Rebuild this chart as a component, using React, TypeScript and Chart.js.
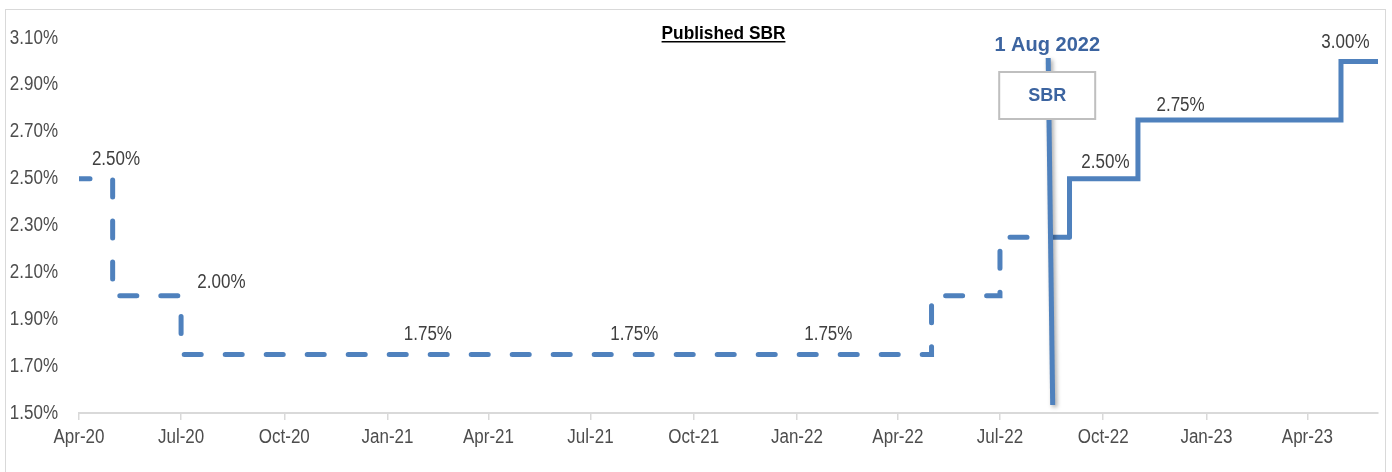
import React, { useEffect, useRef } from "react";
import { Chart, registerables } from "chart.js";

Chart.register(...registerables);

const d = (y: number, m: number, day: number) => Date.UTC(y, m - 1, day);

// X axis ticks (quarter starts)
const tickDates = [
  d(2020, 4, 1), d(2020, 7, 1), d(2020, 10, 1), d(2021, 1, 1), d(2021, 4, 1),
  d(2021, 7, 1), d(2021, 10, 1), d(2022, 1, 1), d(2022, 4, 1), d(2022, 7, 1),
  d(2022, 10, 1), d(2023, 1, 1), d(2023, 4, 1),
];
const tickLabels = [
  "Apr-20", "Jul-20", "Oct-20", "Jan-21", "Apr-21", "Jul-21", "Oct-21",
  "Jan-22", "Apr-22", "Jul-22", "Oct-22", "Jan-23", "Apr-23",
];
const xMin = d(2020, 4, 1);
const xMax = d(2023, 6, 3);

// Y axis
const yMin = 1.5;
const yMax = 3.1;
const yStep = 0.2;

// Dashed (pre-publication) step series: start of each level
const earlyDates = [d(2020, 4, 1), d(2020, 5, 1), d(2020, 7, 1), d(2022, 5, 1), d(2022, 7, 1), d(2022, 9, 1)];
const earlyValues = [2.5, 2.0, 1.75, 2.0, 2.25, 2.25];

// Solid (published) step series
const publishedDates = [d(2022, 9, 1), d(2022, 9, 1), d(2022, 11, 1), d(2023, 5, 1), d(2023, 6, 3)];
const publishedValues = [2.25, 2.5, 2.75, 3.0, 3.0];

// Data labels
const labelTexts = ["2.50%", "2.00%", "1.75%", "1.75%", "1.75%", "2.50%", "2.75%", "3.00%"];
const labelDates = [
  d(2020, 5, 4), d(2020, 8, 6), d(2021, 2, 6), d(2021, 8, 9), d(2022, 1, 29),
  d(2022, 10, 3), d(2022, 12, 9), d(2023, 5, 5),
];
const labelValues = [2.58, 2.055, 1.833, 1.833, 1.833, 2.567, 2.814, 3.081];

// Publication marker
const markerText = "1 Aug 2022";
const markerBoxText = "SBR";
const markerTopDate = d(2022, 8, 13);
const markerBottomDate = d(2022, 8, 17);
const markerTopValue = 3.015;
const markerBottomValue = 1.534;

const titleText = "Published SBR";

const BLUE = "#4F81BD";
const SANS = '"Liberation Sans", Arial, sans-serif';
const NARROW_SCALE = 0.85;

function narrowText(ctx: any, text: string, x: number, y: number, align: string, sx: number) {
  ctx.save();
  ctx.translate(x, y);
  ctx.scale(sx, 1);
  ctx.textAlign = align;
  ctx.fillText(text, 0, 0);
  ctx.restore();
}

const overlayPlugin = {
  id: "overlay",
  beforeDraw(chart: any) {
    const { ctx, width, height } = chart;
    ctx.save();
    ctx.fillStyle = "#ffffff";
    ctx.fillRect(0, 0, width, height);
    ctx.strokeStyle = "#d9d9d9";
    ctx.lineWidth = 1;
    ctx.strokeRect(5.5, 9.5, width - 12, height + 20);
    ctx.restore();
  },
  afterDraw(chart: any) {
    const { ctx } = chart;
    const x = chart.scales.x;
    const y = chart.scales.y;
    ctx.save();
    ctx.fillStyle = "#4d4d4d";
    ctx.font = `20px ${SANS}`;
    ctx.textBaseline = "middle";
    y.ticks.forEach((t: any) => {
      narrowText(ctx, Number(t.value).toFixed(2) + "%", 58, y.getPixelForValue(t.value), "right", NARROW_SCALE);
    });
    tickDates.forEach((v, i) => {
      narrowText(ctx, tickLabels[i], x.getPixelForValue(v), 437, "center", NARROW_SCALE);
    });
    ctx.restore();
  },
  afterDatasetsDraw(chart: any) {
    const { ctx, chartArea } = chart;
    const x = chart.scales.x;
    const y = chart.scales.y;
    ctx.save();

    // data labels
    ctx.font = `20px ${SANS}`;
    ctx.fillStyle = "#404040";
    ctx.textBaseline = "middle";
    labelTexts.forEach((t, i) => {
      narrowText(ctx, t, x.getPixelForValue(labelDates[i]), y.getPixelForValue(labelValues[i]), "center", NARROW_SCALE);
    });

    // marker line with shadow
    const x1 = x.getPixelForValue(markerTopDate);
    const y1 = y.getPixelForValue(markerTopValue);
    const x2 = x.getPixelForValue(markerBottomDate);
    const y2 = y.getPixelForValue(markerBottomValue);
    ctx.save();
    ctx.shadowColor = "rgba(0,0,0,0.35)";
    ctx.shadowBlur = 4;
    ctx.shadowOffsetX = 2;
    ctx.shadowOffsetY = 2;
    ctx.strokeStyle = BLUE;
    ctx.lineWidth = 5;
    ctx.lineCap = "butt";
    ctx.beginPath();
    ctx.moveTo(x1, y1);
    ctx.lineTo(x2, y2);
    ctx.stroke();
    ctx.restore();

    // marker box
    const bx = x1 - 1;
    ctx.fillStyle = "#ffffff";
    ctx.fillRect(bx - 48, 72, 96, 47);
    ctx.strokeStyle = "#bfbfbf";
    ctx.lineWidth = 2;
    ctx.strokeRect(bx - 48, 72, 96, 47);
    ctx.fillStyle = "#3C64A0";
    ctx.font = `bold 18px ${SANS}`;
    ctx.textAlign = "center";
    ctx.textBaseline = "middle";
    ctx.fillText(markerBoxText, bx, 96);
    ctx.font = `bold 20px ${SANS}`;
    ctx.fillText(markerText, bx, 45);

    // title
    const tx = (chartArea.left + chartArea.right) / 2 - 5;
    ctx.font = `bold 18px ${SANS}`;
    ctx.fillStyle = "#000000";
    ctx.textBaseline = "alphabetic";
    const tScale = 0.96;
    narrowText(ctx, titleText, tx, 39, "center", tScale);
    const w = ctx.measureText(titleText).width * tScale;
    ctx.fillRect(tx - w / 2, 41, w, 1.5);

    ctx.restore();
  },
};

export default function App() {
  const ref = useRef<HTMLCanvasElement | null>(null);

  useEffect(() => {
    document.body.style.margin = "0";
    if (!ref.current) return;
    const chart = new Chart(ref.current, {
      type: "line",
      data: {
        datasets: [
          {
            label: "Indicative",
            data: earlyDates.map((t, i) => ({ x: t, y: earlyValues[i] })),
            borderColor: BLUE,
            borderWidth: 5,
            borderDash: [17, 24],
            borderDashOffset: 6,
            borderCapStyle: "round",
            borderJoinStyle: "miter",
            stepped: "before",
            pointRadius: 0,
            fill: false,
          },
          {
            label: "Published",
            data: publishedDates.map((t, i) => ({ x: t, y: publishedValues[i] })),
            borderColor: BLUE,
            borderWidth: 5,
            borderCapStyle: "round",
            borderJoinStyle: "miter",
            stepped: "before",
            pointRadius: 0,
            fill: false,
          },
        ],
      },
      options: {
        animation: false,
        responsive: false,
        maintainAspectRatio: false,
        layout: { padding: { left: 0, top: 38, right: 14, bottom: 0 } },
        plugins: {
          legend: { display: false },
          title: { display: false },
          tooltip: { enabled: false },
        },
        scales: {
          x: {
            type: "linear",
            min: xMin,
            max: xMax,
            afterBuildTicks: (scale: any) => {
              scale.ticks = tickDates.map((v) => ({ value: v }));
            },
            afterFit: (scale: any) => {
              scale.height = 59;
            },
            ticks: {
              autoSkip: false,
              maxRotation: 0,
              padding: 4,
              color: "rgba(0,0,0,0)",
              font: { family: SANS, size: 20 },
              callback: (v: any) => {
                const i = tickDates.indexOf(Number(v));
                return i >= 0 ? tickLabels[i] : "";
              },
            },
            grid: {
              drawOnChartArea: false,
              drawTicks: true,
              tickLength: 7,
              color: "#d9d9d9",
              lineWidth: 1.5,
            },
            border: { display: true, color: "#d9d9d9", width: 2 },
          },
          y: {
            min: yMin,
            max: yMax,
            afterFit: (scale: any) => {
              scale.width = 79;
            },
            ticks: {
              stepSize: yStep,
              padding: 21,
              color: "rgba(0,0,0,0)",
              font: { family: SANS, size: 20 },
              callback: (v: any) => Number(v).toFixed(2) + "%",
            },
            grid: { display: false, drawTicks: false },
            border: { display: false },
          },
        },
      },
      plugins: [overlayPlugin],
    } as any);
    return () => chart.destroy();
  }, []);

  return (
    <div style={{ width: 1392, height: 472 }}>
      <canvas ref={ref} width={1392} height={472} style={{ display: "block" }} />
    </div>
  );
}
